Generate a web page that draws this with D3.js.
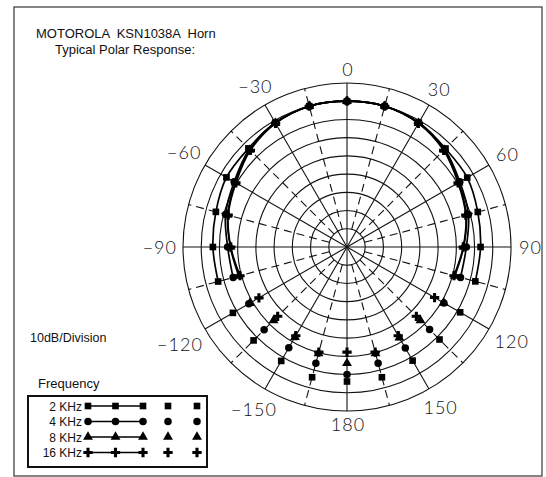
<!DOCTYPE html>
<html>
<head>
<meta charset="utf-8">
<script src="https://cdn.jsdelivr.net/npm/d3@7"></script>
<style>
  body { margin: 0; background: #fff; }
  svg { display: block; }
  .ring { fill: none; stroke: #111; stroke-width: 1.1; }
  .spoke { stroke: #111; stroke-width: 1.1; }
  .spoke.dash { stroke-dasharray: 8 5; }
  .curve { fill: none; stroke: #000; stroke-width: 1.7; }
  .angle-label { font-family: Lato, "DejaVu Sans", sans-serif; font-weight: 300; font-size: 18px; letter-spacing: 1px; fill: #111; }
  .txt { font-family: "Liberation Sans", Arial, sans-serif; fill: #111; }
</style>
</head>
<body>
<svg id="canvas" width="546" height="477"></svg>
<script>
  // angles in degrees, 0 = front of horn
  const angles = [-165, -150, -135, -120, -105, -90, -75, -60, -45, -30, -15, 0,
                  15, 30, 45, 60, 75, 90, 105, 120, 135, 150, 165, 180];
  const freqs = ["2 KHz", "4 KHz", "8 KHz", "16 KHz"];
  // response in dB relative to on-axis
  const resp2k  = [-6, -7.8, -7.5, -7.7, -6.8, -6.4, -5.5, -3.6, -3.5, -1.2, 0, 0,
                   0, -1.2, -3.6, -3.8, -5.7, -6.7, -7.1, -8.3, -8.2, -8, -6, -6.2];
  const resp4k  = [-14, -16.1, -15.7, -17.8, -15.3, -14.5, -11, -8.5, -4.2, -1.3, 0, 0,
                   0, -1.3, -4.2, -8.5, -11, -14.5, -15.5, -18.6, -15.9, -16, -14, -10];
  const resp8k  = [-19.5, -22.9, -23, -18.5, -18.5, -16, -12.2, -9.3, -4.6, -1.5, 0, 0,
                   0, -1.5, -4.6, -9.3, -12.2, -16, -18.8, -18.6, -23, -22.5, -19.5, -16.3];
  const resp16k = [-20.3, -23.8, -26.2, -24.2, -19.2, -16.2, -12.5, -9.6, -5, -1.6, 0, 0,
                   0, -1.6, -5, -9.6, -12.5, -16.2, -19.2, -24.5, -26.2, -23.8, -20.3, -22.3];
  const series = [resp2k, resp4k, resp8k, resp16k];
  const symbols = [d3.symbolSquare, d3.symbolCircle, d3.symbolTriangle, d3.symbolCross];
  const symbolSizes = [44, 44, 42, 48];
  const ringLevels = [-70, -60, -50, -40, -30, -20, -10, 0, 10];
  const labelAngles = [0, 30, 60, 90, 120, 150, 180, -150, -120, -90, -60, -30];
  const lineLimit = 105; // beyond this only markers are plotted

  const svg = d3.select("svg");
  const cx = 347, cy = 247, R = 164;
  const r = d3.scaleLinear().domain([-80, 10]).range([0, R]);
  const rad = d => d * Math.PI / 180;

  // page frame
  svg.append("rect").attr("x", 14).attr("y", 7).attr("width", 528).attr("height", 469)
    .attr("fill", "none").attr("stroke", "#444").attr("stroke-width", 1.3);

  // titles
  svg.append("text").attr("class", "txt").attr("x", 36).attr("y", 38)
    .attr("font-size", 13).attr("xml:space", "preserve").text("MOTOROLA  KSN1038A  Horn");
  svg.append("text").attr("class", "txt").attr("x", 55).attr("y", 54)
    .attr("font-size", 13).text("Typical Polar Response:");
  svg.append("text").attr("class", "txt").attr("x", 30).attr("y", 342)
    .attr("font-size", 12.5).text("10dB/Division");

  const g = svg.append("g").attr("transform", `translate(${cx},${cy})`);

  // grid rings
  g.selectAll(".ring").data(ringLevels).join("circle")
    .attr("class", "ring").attr("r", d => r(d));

  // spokes: solid every 30 from the centre, dashed in between from the first ring
  const spokes = d3.range(0, 360, 15);
  g.selectAll(".spoke").data(spokes).join("line")
    .attr("class", d => d % 30 === 0 ? "spoke" : "spoke dash")
    .attr("x1", d => d % 30 === 0 ? 0 : r(-70) * Math.sin(rad(d)))
    .attr("y1", d => d % 30 === 0 ? 0 : -r(-70) * Math.cos(rad(d)))
    .attr("x2", d => R * Math.sin(rad(d)))
    .attr("y2", d => -R * Math.cos(rad(d)));

  // angle labels
  g.selectAll(".angle-label").data(labelAngles).join("text")
    .attr("class", "angle-label")
    .attr("text-anchor", "middle")
    .text(d => d < 0 ? "\u2212" + (-d) : String(d))
    .each(function (d) {
      const w = this.getComputedTextLength();
      const h = 13;
      const t = rad(d);
      const dist = R + 7 + Math.abs(Math.sin(t)) * w / 2 + Math.abs(Math.cos(t)) * h / 2;
      d3.select(this)
        .attr("x", dist * Math.sin(t) + 1)
        .attr("y", -dist * Math.cos(t) + h / 2);
    });

  // response curves (front part connected)
  const line = d3.lineRadial()
    .angle(d => rad(d[0]))
    .radius(d => r(d[1]))
    .curve(d3.curveCardinal);

  series.forEach((vals, i) => {
    const pts = angles.map((a, j) => [a, vals[j]]);
    g.append("path").attr("class", "curve")
      .attr("d", line(pts.filter(p => Math.abs(p[0]) <= lineLimit)));
    g.selectAll(null).data(pts).join("path")
      .attr("d", d3.symbol(symbols[i], symbolSizes[i]))
      .attr("fill", "#000")
      .attr("transform", d => {
        const t = rad(d[0]), rr = r(d[1]);
        return `translate(${rr * Math.sin(t)},${-rr * Math.cos(t)})`;
      });
  });

  // legend
  svg.append("text").attr("class", "txt").attr("x", 38).attr("y", 388)
    .attr("font-size", 13).text("Frequency");
  svg.append("rect").attr("x", 28).attr("y", 396).attr("width", 179).attr("height", 71)
    .attr("fill", "none").attr("stroke", "#111").attr("stroke-width", 2);

  const rowY = d3.scalePoint().domain(freqs).range([406, 452.5]);
  const lineXs = [88, 115.5, 143];
  const dotXs = [168, 197];
  freqs.forEach((f, i) => {
    const y = rowY(f);
    svg.append("text").attr("class", "txt").attr("x", 82).attr("y", y + 4.5)
      .attr("font-size", 12).attr("text-anchor", "end").text(f);
    svg.append("line").attr("x1", lineXs[0]).attr("x2", lineXs[2])
      .attr("y1", y).attr("y2", y).attr("stroke", "#000").attr("stroke-width", 1.4);
    lineXs.concat(dotXs).forEach(x => {
      svg.append("path").attr("d", d3.symbol(symbols[i], symbolSizes[i]))
        .attr("fill", "#000").attr("transform", `translate(${x},${y})`);
    });
  });
</script>
</body>
</html>
